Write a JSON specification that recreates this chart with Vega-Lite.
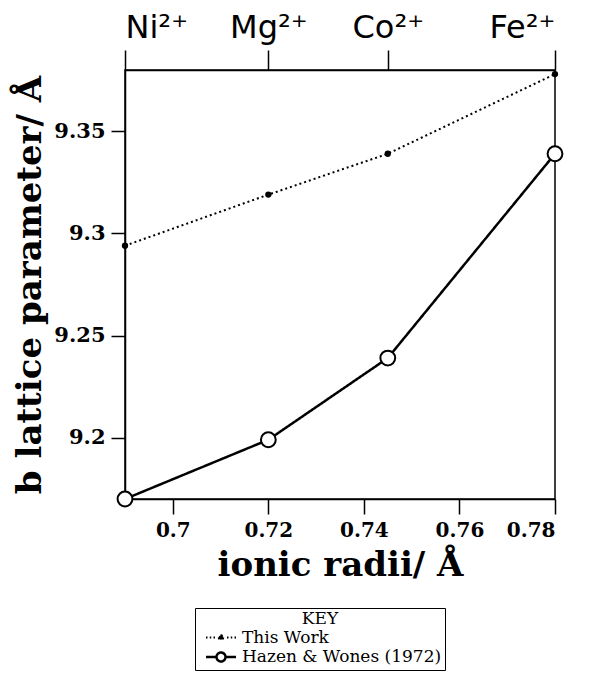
{
  "$schema": "https://vega.github.io/schema/vega-lite/v6.json",
  "width": 430,
  "height": 429,
  "autosize": {"type": "none"},
  "padding": {"left": 125, "top": 70, "right": 54, "bottom": 174},
  "background": "white",
  "config": {
    "view": {"stroke": "black", "strokeWidth": 1.5},
    "axis": {"domainColor": "black", "tickColor": "black", "labelColor": "black", "titleColor": "black", "grid": false, "domainWidth": 1.5, "tickWidth": 1.5}
  },
  "data": {"values": [
    {"r": 0.69, "b": 9.294, "series": "This Work"},
    {"r": 0.72, "b": 9.319, "series": "This Work"},
    {"r": 0.745, "b": 9.339, "series": "This Work"},
    {"r": 0.78, "b": 9.378, "series": "This Work"},
    {"r": 0.69, "b": 9.17, "series": "Hazen & Wones (1972)"},
    {"r": 0.72, "b": 9.199, "series": "Hazen & Wones (1972)"},
    {"r": 0.745, "b": 9.239, "series": "Hazen & Wones (1972)"},
    {"r": 0.78, "b": 9.339, "series": "Hazen & Wones (1972)"}
  ]},
  "resolve": {"axis": {"x": "independent"}},
  "layer": [
    {
      "mark": {"type": "line", "color": "black", "clip": false},
      "encoding": {
        "x": {"field": "r", "type": "quantitative", "scale": {"domain": [0.69, 0.78], "nice": false, "zero": false},
          "axis": {"orient": "bottom", "values": [0.7, 0.72, 0.74, 0.76, 0.78], "format": "~g", "tickSize": 15, "labelPadding": 6,
            "labelFont": "DejaVu Serif", "labelFontSize": 20, "labelFontWeight": "bold", "title": "ionic radii/ Å", "titleFont": "DejaVu Serif", "titleFontSize": 34, "titleFontWeight": "bold", "titlePadding": 8}},
        "y": {"field": "b", "type": "quantitative", "scale": {"domain": [9.17, 9.38], "nice": false, "zero": false},
          "axis": {"values": [9.2, 9.25, 9.3, 9.35], "format": "~g", "tickSize": 14, "labelPadding": 6,
            "labelFont": "DejaVu Serif", "labelFontSize": 21, "labelFontWeight": "bold", "title": "b lattice parameter/ Å", "titleFont": "DejaVu Serif", "titleFontSize": 34, "titleFontWeight": "bold", "titlePadding": 6}},
        "strokeDash": {"field": "series", "type": "nominal",
          "scale": {"domain": ["This Work", "Hazen & Wones (1972)"], "range": [[2, 3], [1, 0]]},
          "legend": {"title": "KEY", "orient": "none", "legendX": 70, "legendY": 538, "direction": "vertical",
            "titleAnchor": "middle", "titleFont": "DejaVu Serif", "titleFontSize": 17, "titleFontWeight": "normal", "titlePadding": 1,
            "labelFont": "DejaVu Serif", "labelFontSize": 17, "labelOffset": 12, "symbolOffset": 14,
            "symbolType": "circle", "symbolSize": 225, "symbolStrokeColor": "black", "symbolStrokeWidth": 2,
            "strokeColor": "black", "padding": 3, "rowPadding": 1, "labelLimit": 300,
            "encode": {"symbols": {"update": {
              "shape": {"signal": "datum.value === 'This Work' ? 'M-2,0h0.2M-1.5,0h0.2M-1,0h0.2M0.8,0h0.2M1.3,0h0.2M1.8,0h0.2M0.3,0A0.3,0.3 0 1 1 -0.3,0A0.3,0.3 0 1 1 0.3,0' : 'M-2,0H-0.6M0.6,0H2M0.6,0A0.6,0.6 0 1 1 -0.6,0A0.6,0.6 0 1 1 0.6,0'"},
              "size": {"value": 225},
              "fill": {"signal": "datum.value === 'This Work' ? 'black' : 'white'"},
              "fillOpacity": {"value": 1},
              "stroke": {"value": "black"},
              "strokeWidth": {"value": 2},
              "strokeOpacity": {"value": 1},
              "opacity": {"value": 1},
              "strokeDash": {"value": [1, 0]}}}}}},
        "strokeWidth": {"field": "series", "type": "nominal", "scale": {"domain": ["This Work", "Hazen & Wones (1972)"], "range": [2, 2.5]}, "legend": null}
      }
    },
    {
      "transform": [{"filter": "datum.series === 'This Work'"}],
      "mark": {"type": "point", "shape": "circle", "filled": true, "color": "black", "size": 40, "opacity": 1, "clip": false},
      "encoding": {
        "x": {"field": "r", "type": "quantitative",
          "axis": {"orient": "top", "values": [0.69, 0.72, 0.745, 0.78], "tickSize": 20, "labelPadding": 6, "labelFont": "DejaVu Sans", "labelFontSize": 32,
            "labelExpr": "datum.value < 0.7 ? 'Ni²⁺' : datum.value < 0.73 ? 'Mg²⁺' : datum.value < 0.76 ? 'Co²⁺' : 'Fe²⁺'", "title": null}},
        "y": {"field": "b", "type": "quantitative"}
      }
    },
    {
      "transform": [{"filter": "datum.series !== 'This Work'"}],
      "mark": {"type": "point", "shape": "circle", "filled": false, "fill": "white", "stroke": "black", "strokeWidth": 2, "size": 220, "opacity": 1, "clip": false},
      "encoding": {
        "x": {"field": "r", "type": "quantitative", "axis": null},
        "y": {"field": "b", "type": "quantitative"}
      }
    }
  ]
}
